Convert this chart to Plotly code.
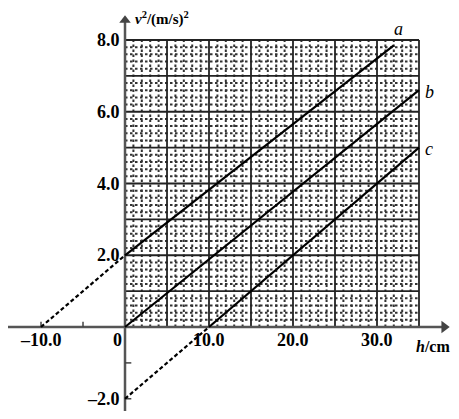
import plotly.graph_objects as go

# ---- data ----
h_tick_vals = [-10, 0, 10, 20, 30]
h_tick_text = ["–10.0", "0", "10.0", "20.0", "30.0"]
v_tick_vals = [-2, 2, 4, 6, 8]
v_tick_text = ["–2.0", "2.0", "4.0", "6.0", "8.0"]

grid_h_max = 35
grid_v_max = 8

line_a_h = [0, 32]
line_a_v = [2.0, 7.85]
ext_a_h = [-10, 0]
ext_a_v = [0, 2.0]

line_b_h = [0, 35]
line_b_v = [0, 6.6]

line_c_h = [10, 35]
line_c_v = [0, 5.0]
ext_c_h = [0, 10]
ext_c_v = [-2.0, 0]

line_labels = ["a", "b", "c"]
label_pos_h = [32.6, 36.2, 36.2]
label_pos_v = [8.3, 6.55, 4.95]

small_ticks_h = [-10, -5]
small_ticks_v = [-1, -2]

# ---- figure ----
fig = go.Figure()

# minor grid (dotted)
mx, my = [], []
for i in range(0, grid_h_max + 1):
    if i % 5 != 0:
        mx += [i, i, None]
        my += [0, grid_v_max, None]
for j in range(0, grid_v_max * 5 + 1):
    if j % 5 != 0:
        y = j / 5
        mx += [0, grid_h_max, None]
        my += [y, y, None]
fig.add_trace(go.Scatter(x=mx, y=my, mode="lines",
                         line=dict(color="#333", width=2, dash="2.5px,2.5px"),
                         hoverinfo="skip", showlegend=False))

# major grid
gx, gy = [], []
for i in range(0, grid_h_max + 1, 5):
    gx += [i, i, None]
    gy += [0, grid_v_max, None]
for j in range(0, grid_v_max + 1):
    gx += [0, grid_h_max, None]
    gy += [j, j, None]
fig.add_trace(go.Scatter(x=gx, y=gy, mode="lines",
                         line=dict(color="#222", width=1.8),
                         hoverinfo="skip", showlegend=False))

# axes
fig.add_trace(go.Scatter(x=[-14.1, 38.0], y=[0, 0], mode="lines",
                         line=dict(color="#555", width=2.5),
                         hoverinfo="skip", showlegend=False))
fig.add_trace(go.Scatter(x=[0, 0], y=[-2.5, 8.5], mode="lines",
                         line=dict(color="#555", width=2.5),
                         hoverinfo="skip", showlegend=False))
# arrowheads
fig.add_trace(go.Scatter(x=[38.0], y=[0], mode="markers",
                         marker=dict(symbol="triangle-right", size=11, color="#444"),
                         hoverinfo="skip", showlegend=False))
fig.add_trace(go.Scatter(x=[0], y=[8.55], mode="markers",
                         marker=dict(symbol="triangle-up", size=10, color="#444"),
                         hoverinfo="skip", showlegend=False))

# small ticks
tx, ty = [], []
for h in small_ticks_h:
    tx += [h, h, None]
    ty += [0, 0.15, None]
for v in small_ticks_v:
    tx += [0, 0.75, None]
    ty += [v, v, None]
fig.add_trace(go.Scatter(x=tx, y=ty, mode="lines",
                         line=dict(color="#444", width=1.5),
                         hoverinfo="skip", showlegend=False))

# lines a, b, c
for hx, vy in [(line_a_h, line_a_v), (line_b_h, line_b_v), (line_c_h, line_c_v)]:
    fig.add_trace(go.Scatter(x=hx, y=vy, mode="lines",
                             line=dict(color="black", width=2.2),
                             hoverinfo="skip", showlegend=False))
for hx, vy in [(ext_a_h, ext_a_v), (ext_c_h, ext_c_v)]:
    fig.add_trace(go.Scatter(x=hx, y=vy, mode="lines",
                             line=dict(color="black", width=2.2, dash="4px,2.5px"),
                             hoverinfo="skip", showlegend=False))

font_b = dict(family="Liberation Serif", size=18, color="black")

# tick labels
for val, txt in zip(h_tick_vals, h_tick_text):
    fig.add_annotation(x=val, y=-0.36, text="<b>%s</b>" % txt, showarrow=False,
                       xanchor="right" if val == 0 else "center",
                       yanchor="middle", font=font_b,
                       xshift=-1 if val == 0 else 0)
for val, txt in zip(v_tick_vals, v_tick_text):
    fig.add_annotation(x=0, y=val, text="<b>%s</b>" % txt, showarrow=False,
                       xanchor="right", yanchor="middle", font=font_b, xshift=-3)

# axis titles
fig.add_annotation(x=0.9, y=8.6, text="<b><i>v</i><sup>2</sup>/(m/s)<sup>2</sup></b>",
                   showarrow=False, xanchor="left", yanchor="middle",
                   font=dict(family="Liberation Serif", size=15, color="black"))
fig.add_annotation(x=34.4, y=-0.55, text="<b><i>h</i>/cm</b>",
                   showarrow=False, xanchor="left", yanchor="middle",
                   font=dict(family="Liberation Serif", size=16, color="black"))

# line labels
for t, hx, vy in zip(line_labels, label_pos_h, label_pos_v):
    fig.add_annotation(x=hx, y=vy, text="<i>%s</i>" % t, showarrow=False,
                       xanchor="center", yanchor="middle",
                       font=dict(family="Liberation Serif", size=18, color="black"))

# page body has an 8px margin: figure is 443x403 placed at (8, 8)
fig.update_layout(
    width=443, height=403,
    margin=dict(l=0, r=0, t=0, b=0),
    paper_bgcolor="white", plot_bgcolor="white",
    xaxis=dict(range=[-13.93, 38.81], visible=False, fixedrange=True),
    yaxis=dict(range=[-2.341, 8.892], visible=False, fixedrange=True),
    showlegend=False,
)

fig.write_html("out.html")
